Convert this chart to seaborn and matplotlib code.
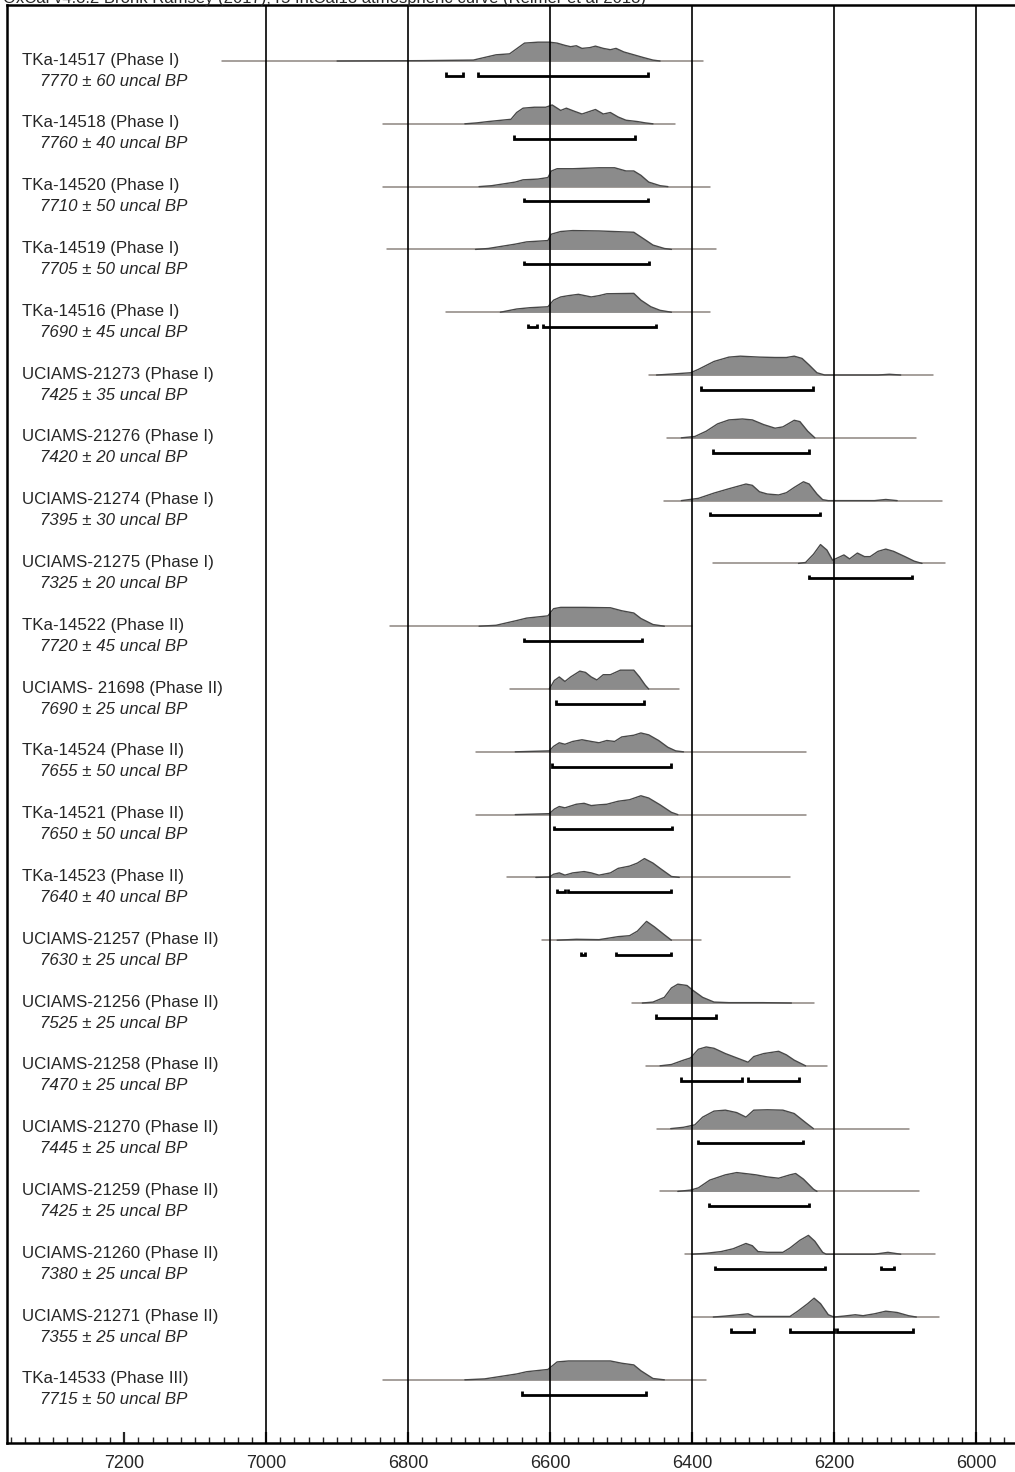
import matplotlib
matplotlib.use('Agg')
import matplotlib.pyplot as plt
import matplotlib.transforms as mtransforms
import seaborn as sns
import pandas as pd

# ---- data ----
sample_names = ['TKa-14517 (Phase I)', 'TKa-14518 (Phase I)', 'TKa-14520 (Phase I)',
                'TKa-14519 (Phase I)', 'TKa-14516 (Phase I)', 'UCIAMS-21273 (Phase I)',
                'UCIAMS-21276 (Phase I)', 'UCIAMS-21274 (Phase I)', 'UCIAMS-21275 (Phase I)',
                'TKa-14522 (Phase II)', 'UCIAMS- 21698 (Phase II)', 'TKa-14524 (Phase II)',
                'TKa-14521 (Phase II)', 'TKa-14523 (Phase II)', 'UCIAMS-21257 (Phase II)',
                'UCIAMS-21256 (Phase II)', 'UCIAMS-21258 (Phase II)', 'UCIAMS-21270 (Phase II)',
                'UCIAMS-21259 (Phase II)', 'UCIAMS-21260 (Phase II)', 'UCIAMS-21271 (Phase II)',
                'TKa-14533 (Phase III)']
uncal_dates = ['7770 ± 60', '7760 ± 40', '7710 ± 50', '7705 ± 50', '7690 ± 45', '7425 ± 35',
               '7420 ± 20', '7395 ± 30', '7325 ± 20', '7720 ± 45', '7690 ± 25', '7655 ± 50',
               '7650 ± 50', '7640 ± 40', '7630 ± 25', '7525 ± 25', '7470 ± 25', '7445 ± 25',
               '7425 ± 25', '7380 ± 25', '7355 ± 25', '7715 ± 50']

# extent of the thin line under each distribution (cal BC)
span_start = [7062, 6835, 6835, 6830, 6746, 6461, 6435, 6440, 6371, 6825, 6656,
              6705, 6705, 6660, 6611, 6485, 6465, 6450, 6445, 6410, 6400, 6835]
span_end = [6385, 6424, 6374, 6366, 6375, 6060, 6085, 6048, 6044, 6400, 6419,
            6240, 6240, 6262, 6388, 6228, 6210, 6095, 6080, 6057, 6052, 6380]

# probability curves (year, relative density)
prob_years = [
    [6900, 6780, 6708, 6692, 6676, 6657, 6636, 6617, 6601, 6590, 6579, 6571, 6563, 6555, 6544, 6536, 6525, 6515, 6507, 6496, 6482, 6469, 6455, 6445],
    [6720, 6703, 6687, 6655, 6647, 6638, 6622, 6606, 6597, 6585, 6577, 6566, 6555, 6536, 6525, 6515, 6504, 6493, 6477, 6466, 6455],
    [6700, 6682, 6649, 6638, 6617, 6603, 6598, 6590, 6568, 6531, 6509, 6493, 6482, 6472, 6461, 6445, 6434],
    [6705, 6687, 6649, 6633, 6603, 6598, 6585, 6568, 6531, 6482, 6466, 6455, 6439, 6429],
    [6670, 6647, 6628, 6603, 6595, 6585, 6574, 6560, 6542, 6531, 6520, 6482, 6472, 6458, 6445, 6429],
    [6450, 6429, 6402, 6391, 6369, 6348, 6332, 6305, 6283, 6267, 6256, 6245, 6235, 6224, 6213, 6138, 6122, 6106],
    [6415, 6396, 6380, 6364, 6348, 6329, 6315, 6299, 6283, 6272, 6256, 6248, 6237, 6227],
    [6415, 6391, 6369, 6348, 6324, 6315, 6305, 6294, 6278, 6267, 6256, 6243, 6235, 6224, 6216, 6208, 6143, 6127, 6111],
    [6250, 6240, 6229, 6219, 6210, 6202, 6194, 6186, 6178, 6167, 6157, 6149, 6138, 6127, 6116, 6100, 6087, 6076],
    [6700, 6676, 6647, 6633, 6603, 6595, 6585, 6552, 6515, 6499, 6482, 6472, 6455, 6439],
    [6601, 6594, 6587, 6579, 6571, 6558, 6550, 6542, 6534, 6525, 6515, 6501, 6482, 6474, 6466, 6461],
    [6649, 6601, 6595, 6587, 6579, 6568, 6555, 6542, 6531, 6520, 6509, 6499, 6482, 6472, 6461, 6447, 6434, 6423, 6412],
    [6649, 6601, 6594, 6587, 6579, 6563, 6552, 6542, 6531, 6520, 6504, 6488, 6472, 6461, 6445, 6429, 6420],
    [6620, 6601, 6595, 6587, 6579, 6568, 6552, 6542, 6531, 6515, 6504, 6488, 6477, 6467, 6455, 6445, 6429, 6418],
    [6590, 6563, 6531, 6504, 6488, 6477, 6464, 6453, 6439, 6429],
    [6470, 6455, 6439, 6429, 6420, 6407, 6399, 6385, 6369, 6348, 6300, 6260],
    [6445, 6429, 6412, 6402, 6391, 6380, 6369, 6353, 6337, 6321, 6313, 6299, 6278, 6267, 6256, 6240],
    [6430, 6412, 6396, 6385, 6369, 6353, 6337, 6324, 6313, 6294, 6272, 6256, 6240, 6229],
    [6420, 6402, 6391, 6375, 6353, 6337, 6321, 6310, 6294, 6278, 6262, 6254, 6243, 6229, 6224],
    [6400, 6380, 6359, 6342, 6324, 6315, 6307, 6294, 6272, 6262, 6248, 6236, 6227, 6216, 6211, 6143, 6124, 6106],
    [6370, 6353, 6334, 6321, 6313, 6262, 6251, 6237, 6228, 6219, 6208, 6200, 6186, 6170, 6159, 6143, 6127, 6111, 6095, 6084],
    [6720, 6692, 6647, 6633, 6603, 6590, 6574, 6552, 6515, 6499, 6482, 6472, 6455, 6439],
]
prob_dens = [
    [0, 0.02, 0.05, 0.19, 0.33, 0.38, 0.95, 1.0, 1.0, 0.95, 0.83, 0.76, 0.81, 0.67, 0.71, 0.79, 0.67, 0.6, 0.67, 0.48, 0.33, 0.19, 0.05, 0],
    [0, 0.05, 0.12, 0.24, 0.6, 0.83, 0.88, 0.88, 1.0, 0.71, 0.83, 0.67, 0.52, 0.76, 0.52, 0.6, 0.36, 0.19, 0.12, 0.05, 0],
    [0, 0.05, 0.24, 0.36, 0.4, 0.48, 0.83, 0.95, 0.95, 1.0, 1.0, 0.83, 0.83, 0.6, 0.24, 0.05, 0],
    [0, 0.05, 0.28, 0.4, 0.47, 0.81, 0.95, 1.0, 0.98, 0.91, 0.51, 0.23, 0.05, 0],
    [0, 0.17, 0.24, 0.29, 0.64, 0.81, 0.88, 0.95, 0.81, 0.88, 0.98, 1.0, 0.64, 0.29, 0.1, 0],
    [0, 0.05, 0.12, 0.3, 0.72, 0.95, 1.0, 0.95, 0.93, 0.93, 1.0, 0.88, 0.53, 0.12, 0, 0, 0.04, 0],
    [0, 0.07, 0.35, 0.74, 0.95, 1.0, 0.95, 0.7, 0.51, 0.58, 0.93, 0.86, 0.35, 0],
    [0, 0.12, 0.4, 0.63, 0.88, 0.81, 0.47, 0.35, 0.3, 0.42, 0.7, 1.0, 0.88, 0.35, 0.05, 0, 0, 0.06, 0],
    [0, 0.05, 0.48, 1.0, 0.71, 0.17, 0.31, 0.45, 0.24, 0.55, 0.36, 0.36, 0.64, 0.76, 0.64, 0.36, 0.12, 0],
    [0, 0.05, 0.3, 0.43, 0.55, 0.93, 1.0, 1.0, 0.98, 0.82, 0.7, 0.41, 0.09, 0],
    [0, 0.45, 0.64, 0.4, 0.64, 0.95, 0.88, 0.64, 0.48, 0.76, 0.76, 1.0, 1.0, 0.64, 0.21, 0],
    [0, 0.05, 0.29, 0.48, 0.4, 0.55, 0.64, 0.55, 0.48, 0.6, 0.55, 0.79, 0.88, 1.0, 0.9, 0.6, 0.24, 0.05, 0],
    [0, 0.05, 0.29, 0.43, 0.36, 0.55, 0.6, 0.48, 0.52, 0.55, 0.71, 0.79, 1.0, 0.88, 0.52, 0.12, 0],
    [0, 0.02, 0.17, 0.24, 0.12, 0.24, 0.31, 0.24, 0.12, 0.24, 0.48, 0.6, 0.76, 1.0, 0.76, 0.48, 0.05, 0],
    [0, 0.05, 0.03, 0.19, 0.24, 0.48, 1.0, 0.71, 0.29, 0],
    [0, 0.05, 0.3, 0.8, 1.0, 0.93, 0.68, 0.3, 0.05, 0.02, 0.02, 0],
    [0, 0.07, 0.3, 0.42, 0.88, 1.0, 0.93, 0.65, 0.42, 0.19, 0.49, 0.65, 0.77, 0.58, 0.3, 0],
    [0, 0.07, 0.2, 0.61, 0.93, 0.98, 0.85, 0.61, 0.98, 1.0, 0.98, 0.8, 0.32, 0],
    [0, 0.07, 0.19, 0.6, 0.88, 1.0, 0.93, 0.88, 0.77, 0.7, 0.88, 0.95, 0.65, 0.12, 0],
    [0, 0.05, 0.14, 0.29, 0.57, 0.45, 0.14, 0.1, 0.1, 0.33, 0.74, 1.0, 0.69, 0.1, 0, 0, 0.1, 0],
    [0, 0.05, 0.12, 0.17, 0.03, 0.03, 0.31, 0.71, 1.0, 0.71, 0.12, 0, 0.05, 0.12, 0.07, 0.17, 0.31, 0.24, 0.07, 0],
    [0, 0.05, 0.31, 0.43, 0.55, 0.95, 1.0, 1.0, 1.0, 0.88, 0.79, 0.48, 0.07, 0],
]

# 95.4% ranges (cal BC)
hpd_ranges = [
    [(6747, 6722), (6701, 6462)], [(6651, 6481)], [(6637, 6462)], [(6637, 6460)],
    [(6631, 6619), (6610, 6451)], [(6388, 6229)], [(6370, 6235)], [(6375, 6219)],
    [(6235, 6090)], [(6637, 6470)], [(6591, 6468)], [(6597, 6430)], [(6595, 6428)],
    [(6590, 6579), (6574, 6430)], [(6557, 6551), (6507, 6430)], [(6451, 6366)],
    [(6416, 6329), (6321, 6249)], [(6392, 6244)], [(6376, 6235)],
    [(6367, 6212), (6134, 6115)], [(6345, 6312), (6262, 6200), (6196, 6089)],
    [(6640, 6465)],
]

major_ticks = [7200, 7000, 6800, 6600, 6400, 6200, 6000]
grid_years = [7000, 6800, 6600, 6400, 6200, 6000]
header = 'OxCal v4.3.2 Bronk Ramsey (2017); r5 IntCal13 atmospheric curve (Reimer et al 2013)'

# ---- drawing ----
sns.set_theme(style='white')
plt.rcParams['font.family'] = ['Liberation Sans', 'DejaVu Sans']

PEAK = 0.30      # curve height in row units
BR_OFF = 0.235   # bracket offset below the baseline
BR_TICK = 0.055

fig = plt.figure(figsize=(10.15, 14.72), dpi=100)
ax = fig.add_axes([7 / 1015, 29 / 1472, 1008 / 1015, 1438 / 1472])

rows = []
for i, (yrs, ds) in enumerate(zip(prob_years, prob_dens)):
    for yr, d in zip(yrs, ds):
        rows.append({'row': i, 'year': yr, 'y': -i + d * PEAK})
df = pd.DataFrame(rows)

for i in range(len(sample_names)):
    base = -i
    ax.plot([span_start[i], span_end[i]], [base, base], color='#8d8580', lw=1.1, zorder=2)
    sub = df[df['row'] == i]
    ax.fill_between(sub['year'], base, sub['y'], color='#8b8b8b', lw=0, zorder=3)
    for a, b in hpd_ranges[i]:
        yb = base - BR_OFF
        ax.plot([a, a, b, b], [yb + BR_TICK, yb, yb, yb + BR_TICK], color='black',
                lw=2.0, solid_joinstyle='miter', solid_capstyle='butt', zorder=5)

sns.lineplot(data=df, x='year', y='y', units='row', estimator=None, sort=False,
             color='#484848', lw=1.0, ax=ax, zorder=4)

for g in grid_years:
    ax.axvline(g, color='black', lw=1.2, zorder=4)

trans = mtransforms.blended_transform_factory(ax.transAxes, ax.transData)
for i, (name, date) in enumerate(zip(sample_names, uncal_dates)):
    ax.text(0.0149, -i + 0.015, name, transform=trans, fontsize=12.2, va='center', ha='left')
    ax.text(0.0327, -i - 0.32, date + ' uncal BP', transform=trans, fontsize=12.2,
            style='italic', va='center', ha='left')

ax.set_xlim(7365, 5945)
ax.set_ylim(-22.006, 0.892)
ax.set_xticks(major_ticks)
ax.set_xticklabels([str(t) for t in major_ticks])
ax.set_xticks(list(range(7360, 5940, -20)), minor=True)
ax.set_yticks([])
ax.set_xlabel('')
ax.set_ylabel('')
ax.tick_params(axis='x', which='major', direction='in', length=8, width=1.6,
               labelsize=13, pad=9, bottom=True)
ax.tick_params(axis='x', which='minor', direction='in', length=4, width=1.0, bottom=True)
for s in ['left', 'top', 'bottom']:
    ax.spines[s].set_linewidth(1.8)
    ax.spines[s].set_color('black')
ax.spines['right'].set_visible(False)

# header line is cut by the top edge in the reference
fig.text(3 / 1015, 1 - 3 / 1472, header, fontsize=12, va='baseline', ha='left')

fig.savefig('out.png', dpi=100)
